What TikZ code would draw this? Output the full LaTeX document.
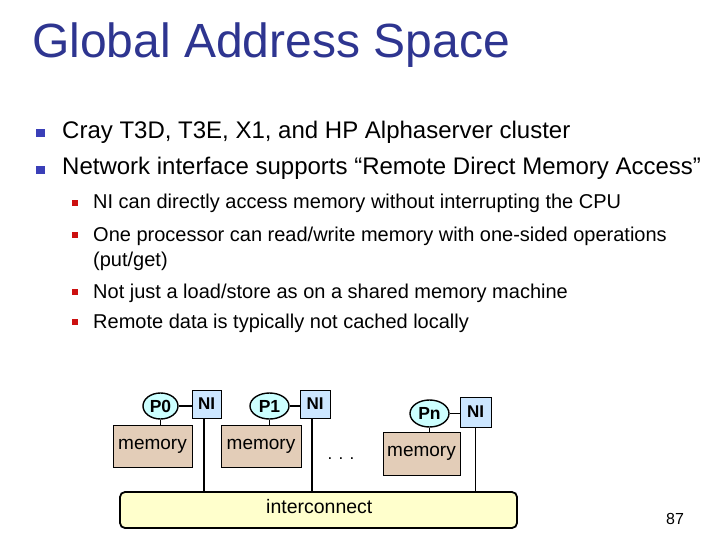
\documentclass[tikz,border=0pt]{standalone}
\usepackage{fontspec}
\setmainfont{Liberation Sans}
\usetikzlibrary{shapes.geometric}
\definecolor{titleblue}{HTML}{2E3590}
\definecolor{bulblue}{HTML}{3A3FB8}
\definecolor{bulred}{HTML}{CC1010}
\definecolor{pfill}{HTML}{CCFFFF}
\definecolor{nifill}{HTML}{CCE6FF}
\definecolor{memfill}{HTML}{E3CDB8}
\definecolor{icfill}{HTML}{FFFFCC}
\begin{document}
\begin{tikzpicture}[x=1pt,y=-1pt,
  txt/.style={anchor=base west,inner sep=0pt,font=#1},
  bulA/.style={fill=bulblue,minimum size=8.5pt,inner sep=0pt},
  bulB/.style={fill=bulred,minimum size=6.5pt,inner sep=0pt},
  proc/.style={ellipse,draw,line width=1.4pt,fill=pfill,inner sep=0pt,font=\fontsize{17.5}{17.5}\selectfont\bfseries},
  nibox/.style={draw,line width=1pt,fill=nifill,inner sep=0pt,font=\fontsize{17}{17}\selectfont\bfseries},
  membox/.style={draw,line width=1pt,fill=memfill,inner sep=0pt,font=\fontsize{19}{19}\selectfont},
  wire/.style={line width=1.3pt}]
\useasboundingbox (0,0) rectangle (720,540);
\fill[white] (0,0) rectangle (720,540);
% title
\node[txt=\fontsize{48}{48}\selectfont,text=titleblue] (title) at (32,58) {Global Address Space};
% level 1
\node[bulA] (b1) at (40.5,133) {};
\node[txt=\fontsize{24}{24}\selectfont] (t1) at (62,139) {Cray T3D, T3E, X1, and HP Alphaserver cluster};
\node[bulA] (b2) at (40.5,170) {};
\node[txt=\fontsize{24}{24}\selectfont] (t2) at (62,175) {Network interface supports “Remote Direct Memory Access”};
% level 2
\node[bulB] (c1) at (75,203) {};
\node[txt=\fontsize{20}{20}\selectfont] (s1) at (93,209) {NI can directly access memory without interrupting the CPU};
\node[bulB] (c2) at (75,235) {};
\node[txt=\fontsize{20}{20}\selectfont] (s2) at (93,241) {One processor can read/write memory with one-sided operations};
\node[txt=\fontsize{20}{20}\selectfont] (s2b) at (93,266) {(put/get)};
\node[bulB] (c3) at (75,292) {};
\node[txt=\fontsize{20}{20}\selectfont] (s3) at (93,298) {Not just a load/store as on a shared memory machine};
\node[bulB] (c4) at (75,322) {};
\node[txt=\fontsize{20}{20}\selectfont] (s4) at (93,328) {Remote data is typically not cached locally};
% diagram
\node[draw,line width=1.8pt,fill=icfill,rounded corners=5pt,minimum width=397pt,minimum height=36pt,inner sep=0pt] (ic) at (318.5,510) {};
\node[txt=\fontsize{19.5}{19.5}\selectfont] (ict) at (266,513) {interconnect};
\node[proc,minimum width=35pt,minimum height=26pt] (p0) at (160.5,406) {P0};
\node[nibox,minimum width=29pt,minimum height=28pt] (ni0) at (206.5,404) {NI};
\node[membox,minimum width=79pt,minimum height=42pt] (m0) at (152.5,446) {memory};
\node[proc,minimum width=39pt,minimum height=26pt] (p1) at (269.5,406) {P1};
\node[nibox,minimum width=30pt,minimum height=28pt] (ni1) at (315,404) {NI};
\node[membox,minimum width=80pt,minimum height=42pt] (m1) at (261,446) {memory};
\node[inner sep=0pt,font=\fontsize{17}{17}\selectfont] (dots) at (341,459) {. . .};
\node[proc,minimum width=39pt,minimum height=27pt] (pn) at (429.5,413.5) {Pn};
\node[nibox,minimum width=31pt,minimum height=30pt] (nin) at (475.5,412) {NI};
\node[membox,minimum width=77pt,minimum height=43pt] (mn) at (421.5,453.5) {memory};
\draw[wire] (p0) -- (ni0.west |- p0);
\draw[wire] (p0.south) -- (p0.south |- m0.north);
\draw[wire] (ni0.south -| 204,0) -- (ic.north -| 204,0);
\draw[wire] (p1) -- (ni1.west |- p1);
\draw[wire] (p1.south) -- (p1.south |- m1.north);
\draw[wire] (ni1.south -| 312,0) -- (ic.north -| 312,0);
\draw[wire] (pn) -- (nin.west |- pn);
\draw[wire] (pn.south) -- (pn.south |- mn.north);
\draw[wire] (nin.south) -- (ic.north -| nin.south);
\node[txt=\fontsize{16}{16}\selectfont] (pg) at (666,524) {87};
\end{tikzpicture}
\end{document}
